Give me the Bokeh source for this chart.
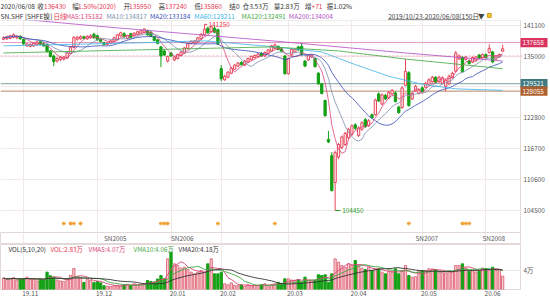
import numpy as np
import pandas as pd
from bokeh.plotting import figure
from bokeh.models import Range1d, FixedTicker, Label, ColumnDataSource, BasicTickFormatter
from bokeh.layouts import column
from bokeh.embed import file_html
from bokeh.resources import INLINE
from bokeh.core.properties import value

FONT = "Noto Sans CJK SC"

# ---------------- data ----------------
opens = [138300,138400,138500,138700,138600,138900,138300,137000,136900,137000,
         137200,137800,137400,137200,136000,135000,134000,134300,134400,134600,
         135500,136700,138300,138400,138800,138400,138600,139300,139000,138300,
         137600,137300,137500,137900,138300,139000,139400,138500,139400,139000,
         139300,139500,139700,140000,139700,138800,138200,136800,136000,134000,
         135600,134200,134500,135100,135600,136500,137500,137600,137800,138400,
         139200,140500,139800,140500,140200,132500,130300,130800,131600,132400,
         133000,133700,133200,133800,134300,134700,134900,135500,135000,135500,
         136000,136500,136900,136400,135000,131500,135200,135800,136800,136900,
         134000,134200,134800,134500,131600,129500,126200,118500,115300,110000,
         115000,116900,117500,118800,119500,121400,119300,120500,122400,121200,
         123400,123400,127500,125500,127200,126700,127500,127700,124900,124800,
         129200,131700,126500,128100,127600,128700,128800,129400,129900,130800,
         129900,129600,129000,129500,130700,132000,134400,134700,134300,134000,
         133800,134200,135200,134700,135300,135700,135800,134400,134800,135950]
highs = [138900,139000,139200,139500,139100,139100,138500,137600,137500,137700,
         138000,138100,137700,137400,136200,135300,134800,135000,135000,135800,
         137000,138900,139000,139100,139000,139100,139300,139600,139200,138500,
         137800,137800,138200,138800,139400,139800,139700,139200,139600,139700,
         140000,140200,140500,140200,139900,139000,138400,137000,136300,135100,
         135800,135000,135500,136000,136800,137600,138100,138200,138800,139500,
         141250,140800,141000,140900,140400,133200,131300,132000,132800,133400,
         133800,134000,134200,134700,135100,135300,135600,135800,135900,136400,
         137200,137500,137100,136600,135200,134700,136500,136500,137000,137600,
         134200,135400,135400,134700,131800,129700,126400,120200,116000,116300,
         117800,119300,120000,120800,121500,121700,121100,122100,122700,122500,
         123600,126600,127800,127600,127500,128100,128500,128000,125200,129000,
         134400,132000,127900,129300,128600,129000,129900,130600,131100,131000,
         131100,131000,130500,131300,131900,136000,135300,135000,135000,134300,
         134900,135000,135400,135500,135500,137300,136000,135200,135500,137240]
lows = [138100,138200,138300,138500,138300,138200,137200,136800,136700,136800,
        137000,137100,136800,135700,134700,133000,133700,134000,134100,134400,
        135300,136500,138000,138200,138300,138200,138400,138400,138000,137700,
        137100,137100,137300,137700,138100,138800,138600,138300,138500,138800,
        139100,139300,139500,139000,138700,137900,137300,132800,135000,133700,
        134800,134000,134300,134900,135400,136300,137300,137400,137600,138200,
        139000,139400,139600,139500,137200,130000,130100,130600,131400,132200,
        132800,133100,133000,133600,134100,134500,134700,134800,134800,135300,
        135800,136300,136100,135700,131300,131300,135000,135600,136000,135100,
        132800,134000,134600,132700,129300,127400,123000,117800,108200,104450,
        114600,116600,117200,118500,119200,120400,119000,120200,120800,121000,
        122600,123200,125900,125300,126300,126500,127300,125800,123600,124600,
        129000,125000,126300,127900,127400,127800,128600,129200,129700,129600,
        129700,129400,128000,129300,130500,131800,134200,131700,134100,133300,
        133600,134000,134400,134500,134500,135500,133600,134200,134600,135860]
closes = [138600,138800,139000,139200,138900,138400,137400,137400,137300,137500,
          137800,137300,137000,135900,134900,133900,134500,134700,134800,135600,
          136800,138700,138700,138800,138500,138900,139000,138600,138200,137900,
          137300,137600,138000,138600,139200,139600,138800,139000,138700,139500,
          139800,140000,140300,139200,138900,138100,137500,135000,135200,134900,
          135000,134800,135300,135800,136600,137400,137900,138000,138600,139300,
          140300,139600,140800,139700,137400,130500,131000,131800,132600,133200,
          133600,133300,134000,134500,134900,135100,135400,135000,135700,136200,
          137000,137200,136300,135900,131500,134500,136300,136300,136200,135300,
          133000,135200,135200,132900,129500,127600,123200,118000,108400,115900,
          117500,119000,119700,120500,121200,120700,120800,121800,121000,122200,
          122800,126300,126100,127300,126500,127800,128200,126000,123800,128700,
          132000,125200,127600,129000,128300,128000,129600,130300,130800,129800,
          130800,130700,130200,131000,131600,135600,135000,131900,134800,133500,
          134700,134800,134600,135300,134700,136500,133800,135000,135300,136430]
volumes = [24000,21000,23000,25000,20000,22000,23000,26000,22000,21000,
           18000,22000,20000,36500,29000,26000,20000,18000,17000,21000,
           30000,44000,27000,24000,15000,22000,19000,15000,17000,14000,
           8000,7000,6500,8000,9000,7500,10000,11000,9000,12000,
           10000,11000,12000,19000,17000,16000,22000,29500,22500,64500,
           78500,54000,50500,45000,47000,42000,36500,33000,36500,40000,
           36500,54000,64500,33000,33000,36500,12000,10000,14000,9000,
           8000,9500,7000,10000,8000,9000,8000,10000,12000,7000,
           10000,12000,15000,13000,22500,22500,20000,19000,21000,15500,
           26000,19000,18000,19000,31000,29500,31000,15500,33000,64500,
           57500,50500,47000,54000,50500,61000,50500,45000,42000,47000,
           40000,43500,43500,36500,33000,38000,36500,43500,33000,40000,
           50500,29500,26000,27000,40000,40000,40000,43500,43500,42000,
           38000,36500,35000,38000,36500,50500,50500,54000,45000,38000,
           40000,37000,40000,45000,43500,42000,47000,40000,42000,28300]

# long moving averages at a few days
ma60_idx = [0, 20, 40, 60, 81, 95, 105, 115, 125, 135, 149]
ma60_val = [137000, 137300, 137600, 138000, 136800, 135800, 133300, 131000, 129400, 128500, 128211]
ma120_idx = [0, 40, 80, 100, 120, 149]
ma120_val = [135600, 136200, 136800, 136000, 134400, 132491]
ma200_idx = [0, 28, 81, 120, 149]
ma200_val = [142600, 140900, 137950, 135600, 134004]

price_ticks = [104500, 110600, 116700, 122800, 128900, 135000, 141100]
hidden_tick = 128900
mid_price = 135000
ref_levels = [137658, 129521, 128055]

month_start_idx = [6, 28, 50, 65, 85, 104, 125, 144]
month_labels = ["19.11", "19.12", "20.01", "20.02", "20.03", "20.04", "20.05", "20.06"]
contract_idx = [30, 50, 123, 143]
contract_labels = ["SN2005", "SN2006", "SN2007", "SN2008"]
star_idx = [18, 20, 21, 23, 47, 48, 49, 64, 81, 121, 137, 138, 139]
vol_ticks = [40000]
vol_tick_labels = ["4万"]

# ---------------- styles ----------------
DARK = "#333333"
RED_TXT = "#e8364e"
UP_LINE = "#e8485c"
UP_FILL = "#fdeef0"
DOWN = "#15a015"
VUP_FILL = "#f6c9cf"
VUP_LINE = "#e27282"
GRID = "#f1e8e8"
EDGE = "#e2d8d8"
C5, C10, C20 = "#e0467c", "#7d8fb0", "#3a4fb8"
C60, C120, C200 = "#3db5e6", "#3fa83f", "#b14ec6"
VC5, VC10, VC20 = "#d9457a", "#3fa83f", "#333333"
ref_line_colors = ["#e79ac0", "#7aa0a0", "#b8866a"]
ref_badge_colors = ["#d9345f", "#3f7a80", "#b0602e"]
FS = "6.4px"
HFS = "6.6px"

# ---------------- layout constants ----------------
PX0, PXS, PLOT_W, FULL_W = 3.0, 3.35, 520, 550


def xpx(px):
    """data x (day index) of a pixel column"""
    return (px - PX0) / PXS


xr = Range1d(xpx(0), xpx(PLOT_W))          # strip / volume frames (520 px)
main_xr = Range1d(xpx(0), xpx(FULL_W))      # main frame spans the label column too
REF_P, REF_Y, PPX = 135000, 55.5, 197.7
MAIN_TOP, MAIN_BOT = 20, 232
P_HI = REF_P + (REF_Y - MAIN_TOP) * PPX
P_LO = REF_P - (MAIN_BOT - REF_Y) * PPX
VOL_H = 45
VOL_TOP = VOL_H * 40000 / 19.0

N = len(closes)
idx = np.arange(N)
o = np.array(opens, float); c = np.array(closes, float)
h = np.array(highs, float); l = np.array(lows, float)
v = np.array(volumes, float)
up = c >= o

ma5 = pd.Series(c).rolling(5, min_periods=1).mean()
ma10 = pd.Series(c).rolling(10, min_periods=1).mean()
ma20 = pd.Series(c).rolling(20, min_periods=1).mean()
vma5 = pd.Series(v).rolling(5, min_periods=1).mean()
vma10 = pd.Series(v).rolling(10, min_periods=1).mean()
vma20 = pd.Series(v).rolling(20, min_periods=1).mean()


def style_axis(a, standoff):
    a.axis_line_color = None
    a.major_tick_line_color = None
    a.minor_tick_line_color = None
    a.major_tick_out = 0
    a.major_tick_in = 0
    a.minor_tick_out = 0
    a.minor_tick_in = 0
    a.major_label_standoff = standoff
    a.major_label_text_font = FONT
    a.major_label_text_font_size = FS
    a.major_label_text_color = "#555555"

# ---------------- header ----------------
hdr = figure(width=550, height=20, x_range=Range1d(0, 550), y_range=Range1d(20, 0),
             output_backend="svg", toolbar_location=None, x_axis_location=None,
             y_axis_location=None, min_border=0, outline_line_color=None)
hdr.grid.visible = False
line1 = [("2020/06/08", 0, DARK), ("收", 39, DARK), (str(closes[-1]), 46, RED_TXT), ("幅", 76, DARK),
         ("1.50%(2020)", 82, RED_TXT), ("开", 130, DARK), (str(opens[-1]), 136, RED_TXT), ("高", 167, DARK),
         (str(highs[-1]), 174, RED_TXT), ("低", 205, DARK), (str(lows[-1]), 211, RED_TXT), ("结0", 242, DARK),
         ("仓3.53万", 256, DARK), ("量2.83万", 289, DARK), ("增", 322, DARK), ("+71", 329, RED_TXT),
         ("振1.02%", 345, DARK)]
line2 = [("SN.SHF [SHFE镍]", 0, DARK), ("日线", 56, RED_TXT), ("MA5:135182", 69, C5),
         ("MA10:134817", 112, C10), ("MA20:133184", 158, C20), ("MA60:128211", 205, C60),
         ("MA120:132491", 255, C120), ("MA200:134004", 305, C200),
         ("2019/10/23-2020/06/08(150日)", 410, "#444444"), ("▼", 505, "#444444")]
for rows, yy in ((line1, 5.5), (line2, 15)):
    hdr.text(x=[r[1] for r in rows], y=[yy] * len(rows), text=[r[0] for r in rows],
             text_color=[r[2] for r in rows], text_font=value(FONT), text_font_size=HFS,
             text_baseline="middle", text_align="left")
hdr.segment(x0=[410], y0=[19.3], x1=[502], y1=[19.3], line_color="#444444", line_width=0.8)
hdr.quad(left=[515], right=[519], top=[13], bottom=[17], fill_color="#f0c030", line_color="#d0a020")

# ---------------- main price panel ----------------
main = figure(width=None, height=None, frame_width=FULL_W, frame_height=MAIN_BOT - MAIN_TOP,
              x_range=main_xr, y_range=Range1d(P_LO, P_HI), output_backend="svg",
              toolbar_location=None, x_axis_location=None, y_axis_location="right",
              min_border=0, outline_line_color=None,
              background_fill_color="white", border_fill_color="white")
ax = main.yaxis[0]
ax.ticker = FixedTicker(ticks=price_ticks)
ax.formatter = BasicTickFormatter(use_scientific=False)
ax.major_label_overrides = {hidden_tick: ""}
style_axis(ax, -(FULL_W - PLOT_W - 3))      # labels sit in the column right of the plot edge
main.ygrid.grid_line_color = GRID
main.xgrid.ticker = FixedTicker(ticks=month_start_idx)
main.xgrid.grid_line_color = GRID

X_EDGE = xpx(PLOT_W)
# blank label column (hides grid lines there) and plot edge
main.quad(left=[X_EDGE], right=[xpx(FULL_W)], bottom=[P_LO], top=[P_HI], fill_color="white", line_color=None)
main.segment(x0=[X_EDGE], y0=[P_LO], x1=[X_EDGE], y1=[P_HI], line_color=EDGE, line_width=1)
main.segment(x0=[xpx(0)], y0=[P_HI], x1=[X_EDGE], y1=[P_HI], line_color=EDGE, line_width=1)

main.segment(x0=[xpx(0)], y0=[mid_price], x1=[xpx(PLOT_W + 2)], y1=[mid_price],
             line_color="#f2a7b8", line_dash="2 2", line_width=1)
for lv, lc in zip(ref_levels, ref_line_colors):
    main.segment(x0=[xpx(0)], y0=[lv], x1=[X_EDGE], y1=[lv], line_color=lc, line_width=1)

src = ColumnDataSource(dict(x=idx, o=o, h=h, l=l, c=c,
                            top=np.maximum(o, c), bot=np.minimum(o, c),
                            lc=np.where(up, UP_LINE, DOWN), fc=np.where(up, UP_FILL, DOWN)))
main.segment(x0="x", y0="h", x1="x", y1="l", line_color="lc", line_width=1, source=src)
main.vbar(x="x", width=0.68, top="top", bottom="bot", fill_color="fc", line_color="lc",
          line_width=1, source=src)

for xs, ys, col in ((idx, ma5, C5), (idx, ma10, C10), (idx, ma20, C20),
                    (ma60_idx, ma60_val, C60), (ma120_idx, ma120_val, C120),
                    (ma200_idx, ma200_val, C200)):
    main.line(xs, ys, line_color=col, line_width=0.9, line_alpha=0.9)

# extreme labels
hi_i = int(np.argmax(h)); lo_i = int(np.argmin(l))
main.segment(x0=[hi_i], y0=[h[hi_i]], x1=[hi_i + 0.8], y1=[h[hi_i]], line_color=RED_TXT, line_width=1)
main.add_layout(Label(x=hi_i, y=h[hi_i], x_offset=4, text=str(int(h[hi_i])), text_color=RED_TXT,
                      text_font=FONT, text_font_size=FS, text_baseline="middle"))
main.segment(x0=[lo_i], y0=[l[lo_i]], x1=[lo_i + 1.6], y1=[l[lo_i]], line_color="#2a9a2a", line_width=1)
main.add_layout(Label(x=lo_i, y=l[lo_i], x_offset=7, text=str(int(l[lo_i])), text_color="#2a9a2a",
                      text_font=FONT, text_font_size=FS, text_baseline="middle"))

# event stars
y_star = P_LO + (P_HI - P_LO) * 9.0 / (MAIN_BOT - MAIN_TOP)
main.scatter(x=star_idx, y=[y_star] * len(star_idx), marker="asterisk", size=4,
             line_color="#f0a030", line_width=1)

# level badges in the label column
BADGE_HALF = 4.6 * PPX
main.quad(left=[X_EDGE] * 3, right=[xpx(PLOT_W + 27)] * 3,
          bottom=[lv - BADGE_HALF for lv in ref_levels], top=[lv + BADGE_HALF for lv in ref_levels],
          fill_color=ref_badge_colors, line_color=None)
main.text(x=[xpx(PLOT_W + 2)] * 3, y=ref_levels, text=[str(lv) for lv in ref_levels],
          text_color="white", text_font=value(FONT), text_font_size=FS,
          text_baseline="middle", text_align="left")

# ---------------- contract strip ----------------
strip = figure(width=None, height=None, frame_width=PLOT_W, frame_height=12, x_range=xr,
               y_range=Range1d(0, 1), output_backend="svg", toolbar_location=None,
               x_axis_location=None, y_axis_location=None, min_border_left=0,
               min_border_right=FULL_W - PLOT_W, min_border_top=0, min_border_bottom=0,
               outline_line_color=EDGE, background_fill_color="white", border_fill_color="white")
strip.ygrid.visible = False
strip.xgrid.ticker = FixedTicker(ticks=month_start_idx)
strip.xgrid.grid_line_color = GRID
strip.text(x=contract_idx, y=[0.5] * len(contract_idx), text=contract_labels,
           text_font=value(FONT), text_font_size=FS, text_color="#555555",
           text_baseline="middle", text_align="left")

# ---------------- volume panel ----------------
vol = figure(width=None, height=None, frame_width=PLOT_W, frame_height=VOL_H, x_range=xr,
             y_range=Range1d(0, VOL_TOP), output_backend="svg", toolbar_location=None,
             x_axis_location="below", y_axis_location="right", min_border_left=0,
             min_border_right=FULL_W - PLOT_W, min_border_top=0, min_border_bottom=12,
             outline_line_color=EDGE, background_fill_color="white", border_fill_color="white")
vsrc = ColumnDataSource(dict(x=idx, v=v, lc=np.where(up, VUP_LINE, DOWN), fc=np.where(up, VUP_FILL, DOWN)))
vol.vbar(x="x", width=0.68, top="v", bottom=0, fill_color="fc", line_color="lc", line_width=1, source=vsrc)
vol.line(idx, vma5, line_color=VC5, line_width=0.9)
vol.line(idx, vma10, line_color=VC10, line_width=0.9)
vol.line(idx, vma20, line_color=VC20, line_width=0.9)

vy = vol.yaxis[0]
vy.ticker = FixedTicker(ticks=vol_ticks)
vy.major_label_overrides = dict(zip(vol_ticks, vol_tick_labels))
style_axis(vy, 3)
vx = vol.xaxis[0]
label_idx = [m + 2 for m in month_start_idx]
vx.ticker = FixedTicker(ticks=label_idx)
vx.major_label_overrides = dict(zip(label_idx, month_labels))
style_axis(vx, 1)
vol.xgrid.ticker = FixedTicker(ticks=month_start_idx)
vol.xgrid.grid_line_color = GRID
vol.ygrid.grid_line_color = GRID

vol_hdr = [("VOL(5,10,20)", 8, DARK), ("VOL:2.83万", 50, RED_TXT), ("VMA5:4.07万", 88, VC5),
           ("VMA10:4.06万", 133, VC10), ("VMA20:4.18万", 178, VC20)]
for t, xx, col in vol_hdr:
    vol.add_layout(Label(x=xx, y=VOL_H - 5, x_units="screen", y_units="screen", text=t,
                         text_color=col, text_font=FONT, text_font_size=FS, text_baseline="middle"))

layout = column(hdr, main, strip, vol, spacing=0)
open("out.html", "w").write(file_html(layout, INLINE))
